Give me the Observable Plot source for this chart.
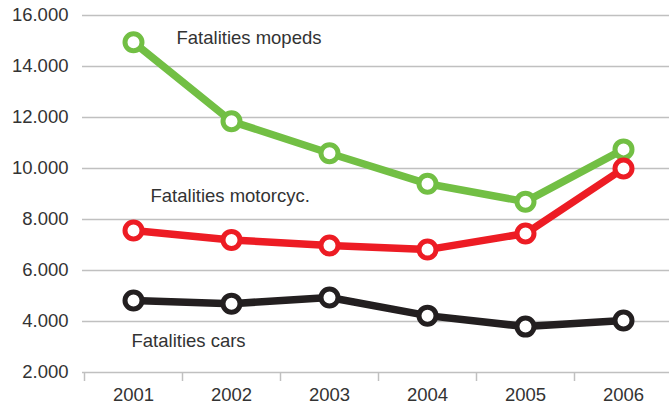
<!DOCTYPE html>
<html>
<head>
<meta charset="utf-8">
<script src="https://cdn.jsdelivr.net/npm/d3@7"></script>
<script src="https://cdn.jsdelivr.net/npm/@observablehq/plot@0.6"></script>
<style>
  html, body { margin: 0; padding: 0; background: #fff; }
  #chart svg { display: block; }
</style>
</head>
<body>
<div id="chart"></div>
<script>
const years = [2001, 2002, 2003, 2004, 2005, 2006];
const mopeds = [14950, 11850, 10600, 9400, 8700, 10750];
const motorcycles = [7570, 7200, 6980, 6820, 7450, 10000];
const cars = [4820, 4700, 4940, 4230, 3800, 4040];
const yTicks = [2000, 4000, 6000, 8000, 10000, 12000, 14000, 16000];
const seriesNames = ["Fatalities mopeds", "Fatalities motorcyc.", "Fatalities cars"];
const seriesColors = ["#72bf44", "#ed1c24", "#231f20"];
// label anchors (year, value) for the annotation texts
const labelYears = [2001, 2001, 2001];
const labelValues = [15100, 8900, 3250];
const labelOffsets = [43, 17, -2];

const seriesValues = [mopeds, motorcycles, cars];
const data = seriesNames.flatMap((name, i) =>
  years.map((yr, j) => ({series: name, year: yr, value: seriesValues[i][j]})));
const labels = seriesNames.map((name, i) => ({series: name, year: labelYears[i], value: labelValues[i], dx: labelOffsets[i]}));
const boundaries = years.map(y => y - 0.5);
const fmt = d => d3.format(",")(d).replace(/,/g, ".");

const plot = Plot.plot({
  width: 669,
  height: 410,
  marginLeft: 82,
  marginRight: 0,
  marginTop: 15,
  marginBottom: 38,
  style: {fontFamily: "'Liberation Sans', Arial, sans-serif", fontSize: "18.5px", color: "#333", background: "#fff"},
  x: {type: "linear", domain: [2000.5, 2006.5], range: [84, 672]},
  y: {domain: [2000, 16000], range: [372, 15]},
  color: {domain: seriesNames, range: seriesColors},
  marks: [
    Plot.ruleY(yTicks, {stroke: "#c0c0c0", strokeWidth: 1.5}),
    Plot.axisY(yTicks, {tickSize: 0, tickPadding: 14, tickFormat: fmt, label: null, fill: "#333", fontSize: 18.5}),
    Plot.axisX(boundaries, {tickSize: 9, tickFormat: () => "", label: null, stroke: "#c0c0c0", strokeWidth: 1.5}),
    Plot.axisX(years, {tickSize: 0, tickPadding: 15, tickFormat: d => String(d), label: null, fill: "#333", fontSize: 18.5}),
    Plot.line(data, {x: "year", y: "value", z: "series", stroke: "series", strokeWidth: 7.5, strokeLinejoin: "round"}),
    Plot.dot(data, {x: "year", y: "value", stroke: "series", fill: "white", r: 8.5, strokeWidth: 5}),
    ...labels.map(l => Plot.text([l], {x: "year", y: "value", text: "series", dx: l.dx, textAnchor: "start", fill: "#333", fontSize: 18.5}))
  ]
});
document.getElementById("chart").appendChild(plot);
</script>
</body>
</html>
